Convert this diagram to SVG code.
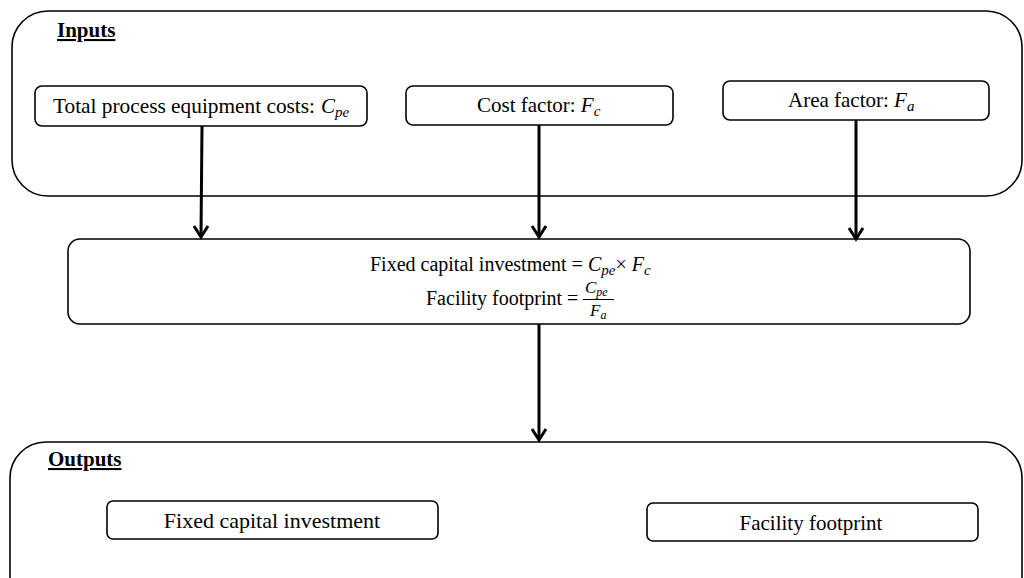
<svg xmlns="http://www.w3.org/2000/svg" width="1024" height="578" viewBox="0 0 1024 578">
<style>
.cont{fill:none;stroke:#000;stroke-width:1.6}
.box{fill:#fff;stroke:#000;stroke-width:1.6}
.t{font-family:"Liberation Serif","Times New Roman",serif;font-size:21px;fill:#000}
.h{font-family:"Liberation Serif","Times New Roman",serif;font-size:21px;font-weight:bold;text-decoration:underline;fill:#000}
.m{font-style:italic}
.s{font-style:italic;font-size:15px}
.conn line{stroke:#000;stroke-width:3}
.conn polyline{fill:none;stroke:#000;stroke-width:3;stroke-linejoin:miter}
</style>
<rect width="1024" height="578" fill="#fff"/>
<g id="inputs">
<rect class="cont" x="12" y="11" width="1010" height="185" rx="36"/>
<text class="h" x="57" y="37">Inputs</text>
</g>
<g id="n-cpe">
<rect class="box" x="35" y="86" width="332" height="40" rx="7"/>
<text class="t" x="53" y="113" textLength="262" lengthAdjust="spacingAndGlyphs">Total process equipment costs:</text>
<text class="t" x="321" y="113"><tspan class="m">C</tspan><tspan class="s" dy="4">pe</tspan></text>
</g>
<g id="n-fc">
<rect class="box" x="406" y="86" width="267" height="39" rx="7"/>
<text class="t" x="477" y="112">Cost factor: <tspan class="m">F</tspan><tspan class="s" dy="4">c</tspan></text>
</g>
<g id="n-fa">
<rect class="box" x="723" y="81" width="266" height="39" rx="7"/>
<text class="t" x="788" y="107">Area factor: <tspan class="m">F</tspan><tspan class="s" dy="4">a</tspan></text>
</g>
<g id="calc">
<rect class="box" x="68" y="239" width="902" height="85" rx="12"/>
<text class="t" x="370" y="271" style="font-size:20px">Fixed capital investment = <tspan class="m">C</tspan><tspan class="s" dy="4">pe</tspan><tspan dy="-4">× </tspan><tspan class="m">F</tspan><tspan class="s" dy="4">c</tspan></text>
<text class="t" x="426" y="305" style="font-size:20px">Facility footprint =</text>
<text class="t" x="585" y="293" style="font-size:17px"><tspan class="m">C</tspan><tspan class="s" style="font-size:12px" dy="3">pe</tspan></text>
<line x1="583" y1="299.5" x2="614" y2="299.5" stroke="#000" stroke-width="1"/>
<text class="t" x="590" y="316" style="font-size:17px"><tspan class="m">F</tspan><tspan class="s" style="font-size:12px" dy="3">a</tspan></text>
</g>
<g id="outputs">
<rect class="cont" x="10" y="442" width="1012" height="180" rx="36"/>
<text class="h" x="48" y="466">Outputs</text>
</g>
<g id="o-fci">
<rect class="box" x="107" y="501" width="331" height="38" rx="6"/>
<text class="t" x="272" y="528" text-anchor="middle" style="font-size:22px">Fixed capital investment</text>
</g>
<g id="o-ff">
<rect class="box" x="647" y="503" width="331" height="38" rx="6"/>
<text class="t" x="811" y="530" text-anchor="middle">Facility footprint</text>
</g>
<g class="conn" id="connectors">
<line x1="202" y1="126" x2="201" y2="236"/>
<polyline points="194,226 201,237 208,226"/>
<line x1="539" y1="125" x2="539" y2="236"/>
<polyline points="532,226 539,237 546,226"/>
<line x1="856" y1="120" x2="856" y2="238"/>
<polyline points="849,228 856,239 863,228"/>
<line x1="539" y1="324" x2="539" y2="439"/>
<polyline points="532,429 539,440 546,429"/>
</g>
</svg>
